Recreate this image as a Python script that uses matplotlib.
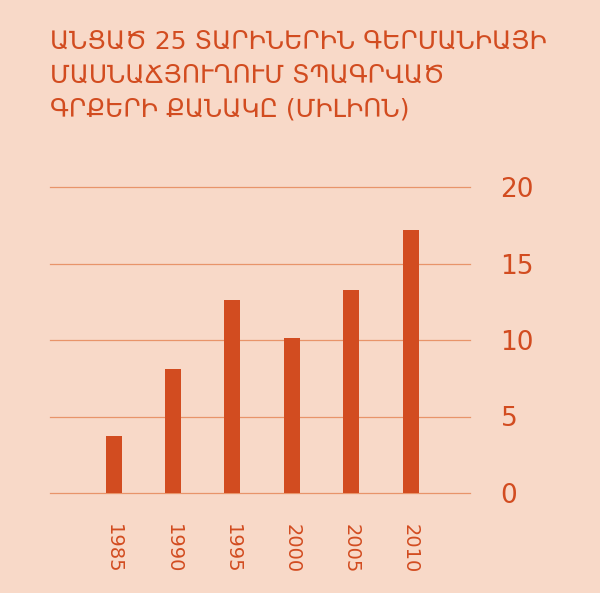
import matplotlib.pyplot as plt

years = ['1985', '1990', '1995', '2000', '2005', '2010']
books = [3.7, 8.1, 12.6, 10.1, 13.3, 17.2]
yticks = [0, 5, 10, 15, 20]
title = 'ԱՆՑԱԾ 25 ՏԱՐԻՆԵՐԻՆ ԳԵՐՄԱՆԻԱՅԻ\nՄԱՍՆԱՃՅՈՒՂՈՒՄ ՏՊԱԳՐՎԱԾ\nԳՐՔԵՐԻ ՔԱՆԱԿԸ (ՄԻԼԻՈՆ)'

bg = '#f8d9c8'
red = '#d24c20'

fig = plt.figure(figsize=(6, 5.93), dpi=100, facecolor=bg)
ax = fig.add_axes([50/600, 1-493/593, 420/600, 306/593], facecolor=bg)

x = range(len(years))
ax.bar(x, books, width=0.27, color=red, zorder=3)
for y in yticks:
    ax.axhline(y, color='#e8946a', lw=0.9, zorder=1, clip_on=False)

ax.set_ylim(0, 20)
ax.set_xlim(-1.07, 6.0)
ax.set_yticks(yticks)
ax.yaxis.tick_right()
ax.tick_params(axis='y', length=0, pad=22, labelsize=19, labelcolor=red)
ax.set_xticks(list(x))
ax.set_xticklabels(years, rotation=270, fontsize=14, color=red)
ax.tick_params(axis='x', length=0, pad=22)
for s in ax.spines.values():
    s.set_visible(False)

fig.text(50/600, 1-30/593, title, color=red, fontsize=18, va='top',
         ha='left', linespacing=1.5, family=['DejaVu Sans'])

plt.savefig('out.png', dpi=100, facecolor=bg)
